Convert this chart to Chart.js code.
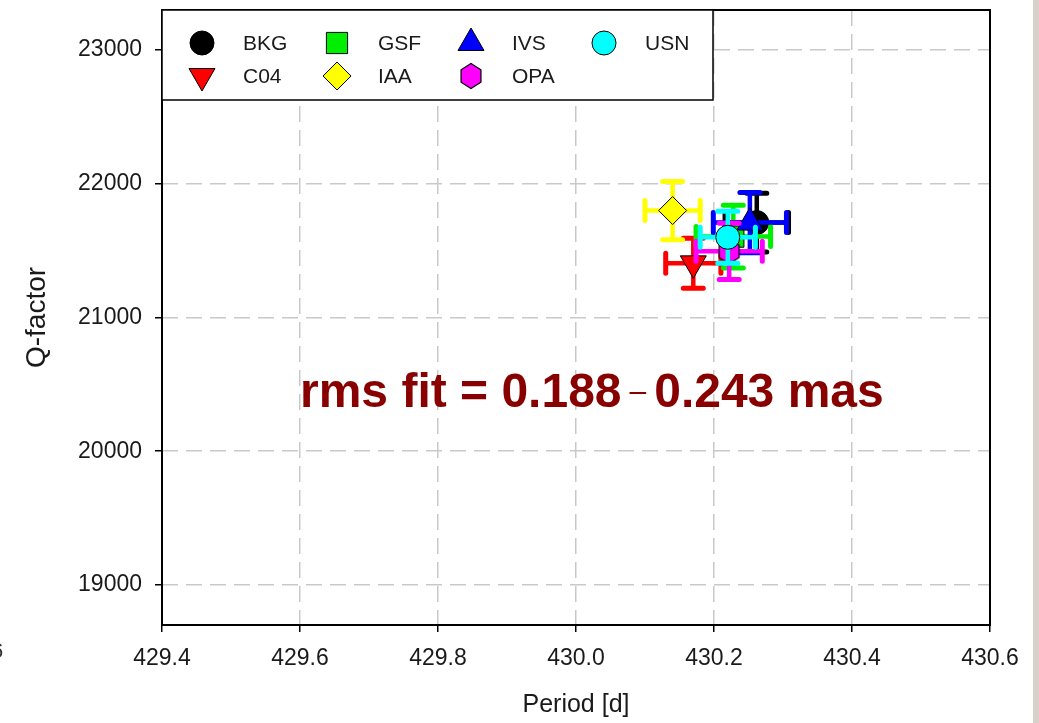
<!DOCTYPE html>
<html>
<head>
<meta charset="utf-8">
<script src="https://cdn.jsdelivr.net/npm/chart.js@4.4.1/dist/chart.umd.min.js"></script>
<style>
  html, body { margin: 0; padding: 0; background: #fff; }
  #wrap { position: relative; width: 1039px; height: 723px; overflow: hidden; background: #fff; }
  #strip { position: absolute; left: 1033px; top: 0; width: 6px; height: 723px; background: #d8d1c9; }
  #frag { position: absolute; left: -9px; top: 638px; font: 22px "Liberation Sans", Arial, sans-serif; color: #333; }
  canvas { position: absolute; left: 0; top: 0; }
</style>
</head>
<body>
<div id="wrap">
  <canvas id="qChart" width="1039" height="723"></canvas>
  <div id="frag">6</div>
  <div id="strip"></div>
</div>
<script>
// values
const seriesNames = ['BKG', 'C04', 'GSF', 'IAA', 'IVS', 'OPA', 'USN'];
const periodValues = [430.262, 430.170, 430.228, 430.140, 430.252, 430.222, 430.220];
const qValues = [21710, 21405, 21605, 21800, 21710, 21495, 21600];
const periodErrors = [0.046, 0.040, 0.054, 0.040, 0.053, 0.048, 0.040];
const qErrors = [220, 187, 235, 218, 225, 210, 195];
const xTickValues = [429.4, 429.6, 429.8, 430.0, 430.2, 430.4, 430.6];
const yTickValues = [19000, 20000, 21000, 22000, 23000];
const annotationText = ['rms fit = 0.188', '\u2013', '0.243 mas'];

// styles
const seriesColors = ['#000000', '#ff0000', '#00ee00', '#ffff00', '#0000ff', '#ff00ff', '#00ffff'];
const FONT = '"Liberation Sans", Arial, sans-serif';

function hexagonImage(color) {
    const c = document.createElement('canvas');
    c.width = 26; c.height = 28;
    const g = c.getContext('2d');
    g.beginPath();
    for (let k = 0; k < 6; k++) {
        const a = Math.PI / 3 * k - Math.PI / 2;
        const px = 13 + 11.5 * Math.cos(a), py = 14 + 12.5 * Math.sin(a);
        k === 0 ? g.moveTo(px, py) : g.lineTo(px, py);
    }
    g.closePath();
    g.fillStyle = color;
    g.fill();
    g.lineWidth = 1.2;
    g.strokeStyle = '#000';
    g.stroke();
    return c;
}

const seriesMarkers = [
    { pointStyle: 'circle', radius: 12, rotation: 0 },
    { pointStyle: 'triangle', radius: 15, rotation: 180 },
    { pointStyle: 'rect', radius: 15, rotation: 0 },
    { pointStyle: 'rectRot', radius: 14, rotation: 0 },
    { pointStyle: 'triangle', radius: 15, rotation: 0 },
    { pointStyle: hexagonImage(seriesColors[5]), radius: 12, rotation: 0 },
    { pointStyle: 'circle', radius: 12, rotation: 0 }
];

const errorBars = {
    id: 'errorBars',
    beforeDatasetDraw(chart, args) {
        const i = args.index;
        const ctx = chart.ctx;
        const xs = chart.scales.x, ys = chart.scales.y;
        const cx = xs.getPixelForValue(periodValues[i]);
        const cy = ys.getPixelForValue(qValues[i]);
        const x0 = xs.getPixelForValue(periodValues[i] - periodErrors[i]);
        const x1 = xs.getPixelForValue(periodValues[i] + periodErrors[i]);
        const y0 = ys.getPixelForValue(qValues[i] - qErrors[i]);
        const y1 = ys.getPixelForValue(qValues[i] + qErrors[i]);
        const cap = 10;
        ctx.save();
        ctx.strokeStyle = seriesColors[i];
        ctx.lineWidth = 4.5;
        ctx.lineCap = 'butt';
        ctx.beginPath();
        ctx.moveTo(x0, cy); ctx.lineTo(x1, cy);
        ctx.moveTo(cx, y0); ctx.lineTo(cx, y1);
        ctx.stroke();
        ctx.lineWidth = 5;
        ctx.lineCap = 'round';
        ctx.beginPath();
        ctx.moveTo(x0, cy - cap); ctx.lineTo(x0, cy + cap);
        ctx.moveTo(x1, cy - cap); ctx.lineTo(x1, cy + cap);
        ctx.moveTo(cx - cap, y0); ctx.lineTo(cx + cap, y0);
        ctx.moveTo(cx - cap, y1); ctx.lineTo(cx + cap, y1);
        ctx.stroke();
        ctx.restore();
    }
};

const frameAndText = {
    id: 'frameAndText',
    beforeDatasetsDraw(chart) {
        const { ctx, chartArea: a } = chart;
        ctx.save();
        ctx.strokeStyle = '#000';
        ctx.lineWidth = 2;
        ctx.strokeRect(a.left, a.top, a.right - a.left, a.bottom - a.top);
        ctx.restore();
    },
    afterDatasetsDraw(chart) {
        const ctx = chart.ctx;
        const xs = chart.scales.x, ys = chart.scales.y;
        let x = xs.getPixelForValue(429.6);
        const y = ys.getPixelForValue(20430);
        ctx.save();
        ctx.fillStyle = '#880000';
        ctx.textBaseline = 'middle';
        ctx.textAlign = 'left';
        ctx.font = 'bold 48px ' + FONT;
        ctx.fillText(annotationText[0], x, y);
        x += ctx.measureText(annotationText[0]).width + 8;
        ctx.font = '30px ' + FONT;
        ctx.fillText(annotationText[1], x, y - 1);
        x += ctx.measureText(annotationText[1]).width + 8;
        ctx.font = 'bold 48px ' + FONT;
        ctx.fillText(annotationText[2], x, y);
        ctx.restore();

        // legend box
        const a = chart.chartArea;
        const box = { left: a.left, top: a.top, right: 713, bottom: 100 };
        ctx.save();
        ctx.fillStyle = '#fff';
        ctx.fillRect(box.left, box.top, box.right - box.left, box.bottom - box.top);
        ctx.strokeStyle = '#000';
        ctx.lineWidth = 1.5;
        ctx.strokeRect(box.left, box.top, box.right - box.left, box.bottom - box.top);
        const colX = [202, 337, 471, 604];
        const rowY = [43, 76];
        seriesNames.forEach((name, i) => {
            const col = Math.floor(i / 2), row = i % 2;
            const mx = colX[col], my = rowY[row];
            const m = seriesMarkers[i];
            ctx.fillStyle = seriesColors[i];
            ctx.strokeStyle = '#000';
            ctx.lineWidth = 1;
            Chart.helpers.drawPoint(ctx, { pointStyle: m.pointStyle, radius: m.radius, rotation: m.rotation, borderWidth: 1 }, mx, my);
            ctx.fillStyle = '#1a1a1a';
            ctx.font = '21px ' + FONT;
            ctx.textAlign = 'left';
            ctx.textBaseline = 'middle';
            ctx.fillText(name, mx + 41, my + 1);
        });
        ctx.restore();
    }
};

const datasets = seriesNames.map((name, i) => ({
    label: name,
    data: [{ x: periodValues[i], y: qValues[i] }],
    order: seriesNames.length - i,
    backgroundColor: seriesColors[i],
    borderColor: '#000',
    borderWidth: 1,
    pointStyle: seriesMarkers[i].pointStyle,
    pointRadius: seriesMarkers[i].radius,
    pointHoverRadius: seriesMarkers[i].radius,
    rotation: seriesMarkers[i].rotation
}));

const gridStyle = {
    color: '#c9c9c9',
    lineWidth: 1.5,
    tickColor: '#000',
    tickLength: 7,
    tickWidth: 1.5,
    tickBorderDash: []
};

new Chart('qChart', {
    type: 'scatter',
    data: { datasets: datasets },
    options: {
        responsive: false,
        animation: false,
        events: [],
        layout: { autoPadding: false, padding: { left: 0, top: 10, right: 49, bottom: 0 } },
        plugins: { legend: { display: false }, tooltip: { enabled: false } },
        scales: {
            x: {
                type: 'linear',
                min: 429.4,
                max: 430.6,
                afterBuildTicks: s => { s.ticks = xTickValues.map(v => ({ value: v })); },
                afterFit: s => { s.height = 98; s.paddingLeft = 0; s.paddingRight = 0; },
                ticks: {
                    color: '#1a1a1a',
                    font: { family: FONT, size: 23 },
                    padding: 13,
                    maxRotation: 0,
                    callback: v => Number(v).toFixed(1)
                },
                grid: gridStyle,
                border: { display: false, dash: [16, 8] },
                title: {
                    display: true,
                    text: 'Period [d]',
                    color: '#1a1a1a',
                    font: { family: FONT, size: 25 },
                    padding: { top: 0, bottom: 3 }
                }
            },
            y: {
                type: 'linear',
                min: 18700,
                max: 23300,
                afterBuildTicks: s => { s.ticks = yTickValues.map(v => ({ value: v })); },
                afterFit: s => { s.width = 162; s.paddingTop = 0; s.paddingBottom = 0; },
                ticks: {
                    color: '#1a1a1a',
                    font: { family: FONT, size: 23 },
                    padding: 13,
                    callback: v => String(v)
                },
                grid: gridStyle,
                border: { display: false, dash: [16, 8] },
                title: {
                    display: true,
                    text: 'Q-factor',
                    color: '#1a1a1a',
                    font: { family: FONT, size: 28 },
                    padding: { top: 20, bottom: 0 }
                }
            }
        }
    },
    plugins: [errorBars, frameAndText]
});
</script>
</body>
</html>
